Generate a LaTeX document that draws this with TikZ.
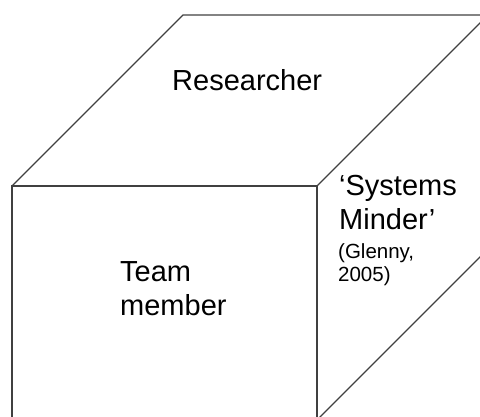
\documentclass[tikz,border=0pt]{standalone}
\usepackage{fontspec}
\setmainfont{Liberation Sans}

\begin{document}
\begin{tikzpicture}[x=1pt,y=-1pt]
    \pgfmathsetmacro{\facewidth}{305}
    \pgfmathsetmacro{\faceheight}{234}
    \pgfmathsetmacro{\cubedepth}{171}
    \pgfmathsetmacro{\edgewidth}{1.1}
    \providecommand{\labelfontsize}{\fontsize{29}{34}\selectfont}
    \providecommand{\citefontsize}{\fontsize{20.5}{23}\selectfont}
    \useasboundingbox (0,0) rectangle (480,416);
    \clip (0,0) rectangle (480,416);
    % corners of the cube
    \coordinate (ftl) at (12,186);
    \coordinate (ftr) at (12+\facewidth,186);
    \coordinate (fbl) at (12,186+\faceheight);
    \coordinate (fbr) at (12+\facewidth,186+\faceheight);
    \coordinate (btl) at (12+\cubedepth,186-\cubedepth);
    \coordinate (btr) at (12+\facewidth+\cubedepth,186-\cubedepth);
    \coordinate (bbr) at (12+\facewidth+\cubedepth,186+\faceheight-\cubedepth);
    \draw[line width=\edgewidth pt,black!75] (fbl) -- (ftl) -- (ftr) -- (fbr);
    \draw[line width=\edgewidth pt,black!75] (ftl) -- (btl) -- (btr) -- (ftr);
    \draw[line width=\edgewidth pt,black!75] (btr) -- (bbr) -- (fbr);
    \node[anchor=base west,inner sep=0,font=\labelfontsize] (researcher) at (172,90) {Researcher};
    \node[anchor=base west,inner sep=0,align=left,font=\labelfontsize] (team) at (120,315) {Team\\member};
    \node[anchor=base west,inner sep=0,align=left,font=\labelfontsize] (minder) at (339,229) {‘Systems\\Minder’};
    \node[anchor=base west,inner sep=0,align=left,font=\citefontsize] (glenny) at (338,281) {(Glenny,\\2005)};
    \end{tikzpicture}
\end{document}
